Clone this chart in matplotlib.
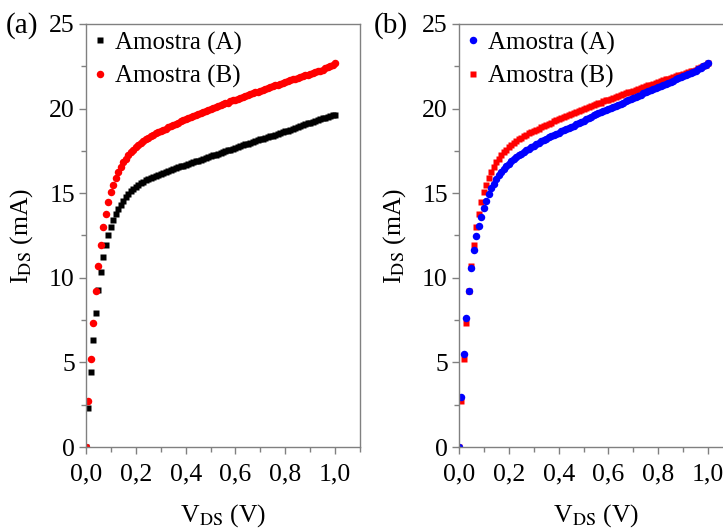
import numpy as np
import matplotlib
matplotlib.use('Agg')
import matplotlib.pyplot as plt
from matplotlib.ticker import MultipleLocator, FuncFormatter

SERIF = 'Liberation Serif'
plt.rcParams['font.family'] = 'serif'
plt.rcParams['font.serif'] = [SERIF, 'DejaVu Serif']

# V_DS sweep, 0 to 1 V in 0.01 V steps
vds = np.round(np.arange(0, 101) * 0.01, 2)

# (a) sample A, black squares (mA)
ids_a_left = [
    0, 2.3, 4.45, 6.3, 7.9, 9.25, 10.35, 11.25, 11.95, 12.5,
    13.0, 13.4, 13.75, 14.05, 14.3, 14.55, 14.78, 14.97, 15.13, 15.25,
    15.37, 15.48, 15.58, 15.67, 15.76, 15.84, 15.91, 15.98, 16.04, 16.1,
    16.16, 16.22, 16.27, 16.33, 16.38, 16.43, 16.48, 16.53, 16.58, 16.63,
    16.68, 16.73, 16.78, 16.83, 16.88, 16.93, 16.98, 17.03, 17.08, 17.13,
    17.18, 17.23, 17.28, 17.33, 17.38, 17.43, 17.48, 17.53, 17.58, 17.63,
    17.68, 17.73, 17.78, 17.83, 17.88, 17.93, 17.98, 18.03, 18.08, 18.13,
    18.18, 18.23, 18.28, 18.33, 18.37, 18.41, 18.45, 18.5, 18.55, 18.6,
    18.65, 18.7, 18.75, 18.8, 18.86, 18.92, 18.98, 19.03, 19.07, 19.12,
    19.17, 19.22, 19.27, 19.32, 19.37, 19.42, 19.47, 19.51, 19.56, 19.6,
    19.65,
]

# sample B, red (same in both panels)
ids_b = [
    0, 2.7, 5.2, 7.3, 9.2, 10.7, 11.95, 13.0, 13.8, 14.5,
    15.05, 15.5, 15.9, 16.25, 16.55, 16.85, 17.05, 17.25, 17.42, 17.58,
    17.72, 17.85, 17.97, 18.08, 18.18, 18.28, 18.36, 18.45, 18.53, 18.6,
    18.68, 18.75, 18.82, 18.9, 18.96, 19.03, 19.1, 19.17, 19.24, 19.3,
    19.38, 19.45, 19.5, 19.56, 19.62, 19.68, 19.74, 19.8, 19.86, 19.92,
    19.98, 20.03, 20.08, 20.14, 20.2, 20.26, 20.31, 20.36, 20.42, 20.48,
    20.53, 20.58, 20.63, 20.69, 20.74, 20.8, 20.85, 20.9, 20.96, 21.01,
    21.06, 21.11, 21.16, 21.22, 21.27, 21.32, 21.37, 21.42, 21.47, 21.52,
    21.57, 21.62, 21.67, 21.72, 21.77, 21.82, 21.87, 21.91, 21.96, 22.01,
    22.06, 22.1, 22.15, 22.2, 22.25, 22.3, 22.4, 22.45, 22.52, 22.6,
    22.7,
]

# (b) sample A, blue circles (mA)
ids_a_right = [
    0, 2.95, 5.5, 7.6, 9.2, 10.55, 11.65, 12.45, 13.05, 13.6,
    14.1, 14.55, 14.95, 15.28, 15.57, 15.82, 16.05, 16.25, 16.43, 16.6,
    16.75, 16.88, 17.0, 17.12, 17.23, 17.34, 17.44, 17.54, 17.63, 17.72,
    17.81, 17.9, 17.98, 18.06, 18.14, 18.22, 18.3, 18.37, 18.44, 18.51,
    18.58, 18.65, 18.72, 18.79, 18.86, 18.93, 19.0, 19.07, 19.14, 19.21,
    19.28, 19.36, 19.44, 19.52, 19.6, 19.66, 19.72, 19.78, 19.84, 19.9,
    19.96, 20.02, 20.08, 20.15, 20.22, 20.29, 20.36, 20.42, 20.48, 20.55,
    20.62, 20.69, 20.76, 20.83, 20.9, 20.96, 21.02, 21.08, 21.14, 21.2,
    21.26, 21.32, 21.38, 21.45, 21.52, 21.59, 21.66, 21.73, 21.8, 21.87,
    21.93, 21.99, 22.05, 22.11, 22.18, 22.25, 22.33, 22.41, 22.5, 22.6,
    22.7,
]

tick_fs = 18.5
leg_fs = 18
lab_fs = 18.5
grey = '#808080'
comma = FuncFormatter(lambda v, p: ('%.1f' % v).replace('.', ','))

fig = plt.figure(figsize=(7.23, 5.32), dpi=100)
ax1 = fig.add_axes([86 / 723, 85 / 532, 274 / 723, 423 / 532])
ax2 = fig.add_axes([459 / 723, 85 / 532, 274 / 723, 423 / 532])

ax1.plot(vds, ids_a_left, 's', color='black', ms=5.0, mec='none', label='Amostra (A)')
ax1.plot(vds, ids_b, 'o', color='#FF0000', ms=5.4, mec='none', label='Amostra (B)')

hb = ax2.plot(vds, ids_b, 's', color='#FF0000', ms=5.0, mec='none', label='Amostra (B)')
ha = ax2.plot(vds, ids_a_right, 'o', color='#0000FF', ms=5.4, mec='none', label='Amostra (A)')

for ax in (ax1, ax2):
    ax.set_xlim(0, 1.1)
    ax.set_ylim(0, 25)
    ax.xaxis.set_major_locator(MultipleLocator(0.2))
    ax.xaxis.set_minor_locator(MultipleLocator(0.1))
    ax.yaxis.set_major_locator(MultipleLocator(5))
    ax.yaxis.set_minor_locator(MultipleLocator(2.5))
    ax.xaxis.set_major_formatter(comma)
    ax.tick_params(which='both', direction='out', color=grey, labelsize=tick_fs,
                   top=False, right=False)
    ax.tick_params(which='major', length=5, width=1)
    ax.tick_params(which='minor', length=3.5, width=1)
    ax.tick_params(axis='x', pad=7)
    ax.tick_params(axis='y', pad=3)
    for s in ax.spines.values():
        s.set_color(grey)
        s.set_linewidth(1)
    ax.set_xlabel(r'V$_{\mathrm{DS}}$ (V)', fontsize=lab_fs, labelpad=12,
                  math_fontfamily='stix')
    ax.set_ylabel(r'I$_{\mathrm{DS}}$ (mA)', fontsize=lab_fs, labelpad=10,
                  math_fontfamily='stix')

leg_kw = dict(loc='upper left', frameon=False, fontsize=leg_fs,
              handlelength=0.5, handletextpad=0.35, labelspacing=0.4,
              borderaxespad=0.0, borderpad=0.3)
ax1.legend(**leg_kw)
ax2.legend([ha[0], hb[0]], ['Amostra (A)', 'Amostra (B)'], **leg_kw)

fig.text(6 / 723, 1 - 26 / 532, '(a)', fontsize=21, va='center', ha='left')
fig.text(374 / 723, 1 - 26 / 532, '(b)', fontsize=21, va='center', ha='left')

fig.savefig('out.png', dpi=100)
